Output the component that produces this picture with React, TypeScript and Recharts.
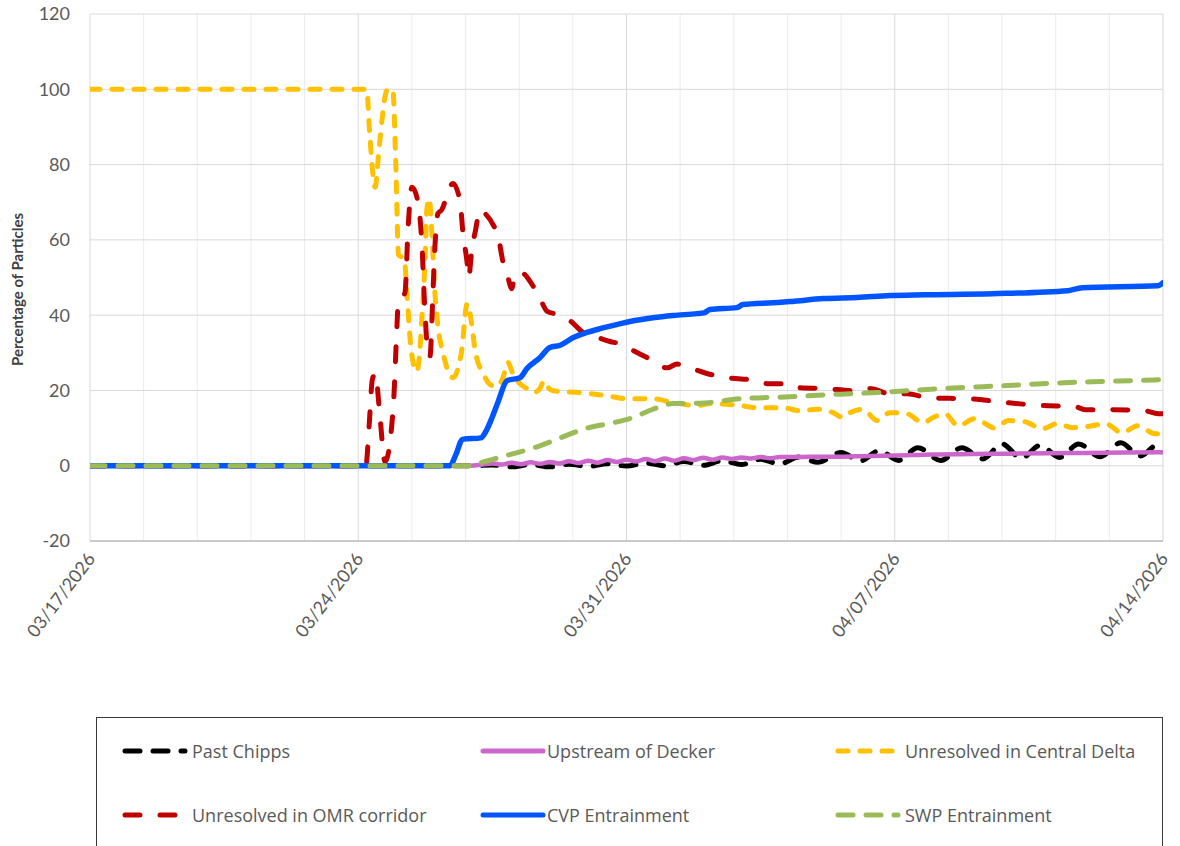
import React from 'react';
import { LineChart, Line, XAxis, YAxis, CartesianGrid, Label } from 'recharts';

// ---- axis values / labels ----
const xTickValues = [0, 7, 14, 21, 28];
const xTickLabels = ['03/17/2026', '03/24/2026', '03/31/2026', '04/07/2026', '04/14/2026'];
const yTickValues = [-20, 0, 20, 40, 60, 80, 100, 120];
const minorGridDays = [1.4, 2.8, 4.2, 5.6, 8.4, 9.8, 11.2, 12.6, 15.4, 16.8, 18.2, 19.6, 22.4, 23.8, 25.2, 26.6];
const yAxisTitle = 'Percentage of Particles';

// ---- series: [day since 03/17/2026, percent] ----
const pastChipps: [number, number][] = [
  [0, 0], [10.0, 0], [10.5, 0.2], [11, -0.3], [11.5, 0.3], [12, -0.3], [12.5, 0.4], [13, -0.2], [13.5, 0.5],
  [14, -0.1], [14.5, 0.7], [15, 0], [15.5, 1.1], [16, 0.1], [16.5, 1.3], [17, 0.3], [17.5, 1.7], [18, 0.5],
  [18.5, 2.3], [19, 0.9], [19.6, 3.5], [20.1, 1.3], [20.6, 4.0], [21.1, 1.4], [21.6, 4.8], [22.2, 1.4],
  [22.75, 4.8], [23.3, 1.8], [23.8, 5.8], [24.3, 2.0], [24.8, 5.4], [25.3, 2.2], [25.8, 5.8], [26.35, 2.4],
  [26.9, 6.1], [27.4, 2.6], [27.9, 5.8], [28, 5.4],
];

const upstreamDecker: [number, number][] = [
  [0, 0], [9.9, 0], [10.25, 0.3], [10.5, 0.6], [10.75, 0.3], [11, 0.8], [11.25, 0.4], [11.5, 0.9], [11.75, 0.5],
  [12, 1.0], [12.25, 0.6], [12.5, 1.2], [12.75, 0.7], [13, 1.3], [13.25, 0.8], [13.5, 1.5], [13.75, 1.0],
  [14, 1.6], [14.25, 1.1], [14.5, 1.8], [14.75, 1.2], [15, 1.9], [15.25, 1.3], [15.5, 2.0], [15.75, 1.5],
  [16, 2.1], [16.25, 1.6], [16.5, 2.2], [16.75, 1.8], [17, 2.2], [17.25, 1.9], [17.5, 2.3], [17.75, 2.0],
  [18, 2.3], [18.5, 2.3], [19, 2.4], [19.5, 2.4], [20, 2.5], [21, 2.7], [22, 3.0], [23, 3.1], [24, 3.2],
  [25, 3.3], [26, 3.4], [27, 3.5], [28, 3.6],
];

const centralDelta: [number, number][] = [
  [0, 100], [7.22, 100], [7.3, 88], [7.44, 74], [7.55, 85], [7.72, 99], [7.78, 100], [7.9, 100], [7.98, 80],
  [8.05, 56], [8.2, 55], [8.27, 46], [8.35, 34], [8.42, 28], [8.53, 25], [8.61, 31], [8.66, 39], [8.74, 54],
  [8.79, 68], [8.85, 71], [8.92, 62], [9.0, 46], [9.08, 37], [9.21, 30], [9.47, 23.4], [9.7, 30.6], [9.84, 43],
  [9.97, 37], [10.05, 30.6], [10.26, 24.5], [10.45, 21.5], [10.62, 21], [10.78, 23.5], [10.9, 27.5], [11.05, 24],
  [11.22, 21.8], [11.4, 20.5], [11.56, 19.4], [11.74, 20.5], [11.85, 22.6], [11.98, 20.5], [12.08, 19.9],
  [12.79, 19.4], [13.49, 18.6], [14.01, 17.8], [14.69, 17.8], [15.21, 16.8], [15.84, 16], [16.18, 16.5],
  [16.96, 16], [17.41, 15.4], [18.08, 15.4], [18.53, 14.6], [18.97, 15], [19.39, 14.1], [19.65, 12.8],
  [19.83, 14.1], [20.17, 15], [20.54, 12], [20.88, 14.1], [21.32, 13.8], [21.74, 11.4], [22.0, 12.8],
  [22.31, 13.8], [22.65, 10.6], [23.09, 12.5], [23.62, 10], [23.96, 12], [24.4, 11.7], [24.84, 9.8],
  [25.26, 11.2], [25.63, 10.1], [26.15, 10.6], [26.49, 11.2], [26.93, 8.8], [27.35, 10.6], [27.79, 8.5], [28, 8.5],
];

const omrCorridor: [number, number][] = [
  [0, 0], [7.2, 0], [7.28, 10], [7.37, 23], [7.45, 24.5], [7.55, 15], [7.7, 1], [7.91, 15], [8.01, 37],
  [8.04, 43], [8.22, 46], [8.3, 63], [8.4, 74], [8.56, 70], [8.66, 59], [8.74, 41], [8.82, 30], [8.87, 29],
  [8.95, 46], [9.0, 58], [9.08, 67], [9.18, 68], [9.39, 74], [9.47, 75], [9.66, 70], [9.73, 62], [9.84, 54],
  [9.88, 50], [9.97, 58], [10.05, 62], [10.18, 68], [10.31, 67], [10.52, 64], [10.65, 61], [10.78, 54],
  [10.88, 51], [11.01, 47], [11.09, 51], [11.3, 51], [11.48, 49], [11.74, 44.5], [11.93, 41], [12.27, 40],
  [12.53, 38.5], [12.87, 35.4], [13.13, 34.5], [13.57, 33], [13.83, 32.4], [14.17, 30.6], [14.54, 28.7],
  [15.06, 26], [15.32, 27], [15.66, 26], [16.1, 24.5], [16.62, 23.4], [17.41, 22.6], [17.67, 21.8],
  [18.27, 21.8], [18.53, 20.7], [19.13, 20.5], [20.02, 19.9], [20.35, 20.5], [20.88, 19.1], [21.32, 19.1],
  [21.92, 18], [22.91, 17.8], [23.88, 16.8], [24.84, 16], [25.7, 15.7], [25.97, 14.9], [26.67, 14.9],
  [27.53, 14.6], [27.87, 13.8], [28, 13.8],
];

const cvpEntrainment: [number, number][] = [
  [0, 0], [9.39, 0], [9.55, 3], [9.72, 7], [10.2, 7.4], [10.35, 9.5], [10.5, 13], [10.65, 17], [10.88, 22.6],
  [11.22, 23.4], [11.4, 25.8], [11.74, 28.7], [12.0, 31.4], [12.27, 32], [12.6, 34], [12.97, 35.4],
  [13.31, 36.4], [13.83, 37.7], [14.09, 38.3], [14.69, 39.3], [15.21, 39.9], [15.84, 40.4], [16.02, 40.6],
  [16.18, 41.5], [16.88, 42], [17.04, 42.8], [17.82, 43.3], [18.27, 43.6], [19.13, 44.4], [20.02, 44.7],
  [20.88, 45.2], [21.79, 45.4], [23.54, 45.7], [25.52, 46.5], [25.89, 47.3], [27.87, 47.8], [28, 48.6],
];

const swpEntrainment: [number, number][] = [
  [0, 0], [9.9, 0], [10.2, 0.8], [10.9, 2.8], [11.5, 4.5], [11.74, 5.3], [12.27, 7.4], [12.97, 10],
  [13.65, 11.4], [14.17, 12.8], [14.69, 15], [15.21, 16.5], [15.92, 16.6], [16.96, 17.8], [18.27, 18.3],
  [19.13, 18.8], [20.02, 19.2], [21.32, 19.9], [21.74, 20.2], [22.65, 20.7], [23.96, 21.3], [24.84, 21.8],
  [26.15, 22.3], [27.79, 22.8], [28, 22.9],
];

const seriesNames = [
  'Past Chipps',
  'Upstream of Decker',
  'Unresolved in Central Delta',
  'Unresolved in OMR corridor',
  'CVP Entrainment',
  'SWP Entrainment',
];
const seriesData = [pastChipps, upstreamDecker, centralDelta, omrCorridor, cvpEntrainment, swpEntrainment];

// styles (not data)
const seriesStyles = [
  { color: '#000000', width: 5, dash: '15 13' },
  { color: '#CC66CC', width: 4.5, dash: undefined },
  { color: '#FFC000', width: 5, dash: '10 12' },
  { color: '#C00000', width: 5, dash: '15 20' },
  { color: '#0055FF', width: 5.5, dash: undefined },
  { color: '#9BBB59', width: 5, dash: '15 13' },
];

const FONT = 'Lato, "Open Sans", sans-serif';
const LEGEND_FONT = '"Open Sans", Lato, sans-serif';

const toRows = (pairs: [number, number][]) => pairs.map(([d, v]) => ({ d, v }));

const XTick = (props: any) => {
  const { x, y, payload } = props;
  const idx = xTickValues.indexOf(payload.value);
  const label = idx >= 0 ? xTickLabels[idx] : '';
  const ax = x + 6;
  const ay = y + 18;
  return (
    <text
      x={ax}
      y={ay}
      textAnchor="end"
      transform={`rotate(-53 ${ax} ${ay})`}
      fontSize={18}
      fill="#595959"
      fontFamily={FONT}
    >
      {label}
    </text>
  );
};

const YTitle = (props: any) => {
  const vb = props.viewBox || { x: 0, y: 14, width: 90, height: 527 };
  const cx = 19;
  const cy = vb.y + vb.height / 2 + 12;
  return (
    <text
      x={cx}
      y={cy}
      textAnchor="middle"
      dominantBaseline="middle"
      transform={`rotate(-90 ${cx} ${cy})`}
      fontSize={15}
      fontWeight="bold"
      fill="#404040"
      fontFamily={FONT}
    >
      {yAxisTitle}
    </text>
  );
};

const LegendBox = () => {
  const iconStarts = [124.5, 482.5, 837.5];
  const textCols = [192, 547, 905];
  const rows = [751, 815];
  const boxLeft = 96;
  const boxTop = 717;
  return (
    <div
      style={{
        position: 'absolute',
        left: boxLeft,
        top: boxTop,
        width: 1067,
        height: 140,
        border: '1px solid #3a3a3a',
        boxSizing: 'border-box',
        background: '#fff',
      }}
    >
      {seriesNames.map((name, i) => {
        const r = Math.floor(i / 3);
        const c = i % 3;
        const st = seriesStyles[i];
        return (
          <React.Fragment key={name}>
            <svg
              width={70}
              height={12}
              style={{ position: 'absolute', left: iconStarts[c] - 5 - boxLeft - 1, top: rows[r] - boxTop - 1 - 6 }}
            >
              <line
                x1={5}
                y1={6}
                x2={65}
                y2={6}
                stroke={st.color}
                strokeWidth={5}
                strokeDasharray={st.dash}
                strokeLinecap="round"
              />
            </svg>
            <div
              style={{
                position: 'absolute',
                left: textCols[c] - boxLeft - 1,
                top: rows[r] - boxTop - 1 - 13,
                height: 26,
                lineHeight: '26px',
                fontSize: 18,
                color: '#595959',
                fontFamily: LEGEND_FONT,
                whiteSpace: 'nowrap',
              }}
            >
              {name}
            </div>
          </React.Fragment>
        );
      })}
    </div>
  );
};

export default function App() {
  return (
    <div
      style={{
        position: 'absolute',
        left: 0,
        top: 0,
        width: 1180,
        height: 846,
        overflow: 'hidden',
        background: '#ffffff',
      }}
    >
      <LineChart width={1180} height={846} margin={{ top: 14, right: 17, bottom: 0, left: 0 }}>
        <CartesianGrid
          horizontal={false}
          vertical={true}
          stroke="#ececec"
          strokeWidth={1}
          verticalCoordinatesGenerator={(args: any) => {
            const { xAxis, offset } = args;
            return minorGridDays.map((d) =>
              xAxis && typeof xAxis.scale === 'function'
                ? xAxis.scale(d)
                : offset.left + (d / 28) * offset.width
            );
          }}
        />
        <CartesianGrid stroke="#d9d9d9" strokeWidth={1} />
        <XAxis
          dataKey="d"
          type="number"
          domain={[0, 28]}
          ticks={xTickValues}
          interval={0}
          height={305}
          tickLine={false}
          tickSize={0}
          tickMargin={0}
          axisLine={{ stroke: '#bfbfbf', strokeWidth: 1.5 }}
          tick={<XTick />}
          allowDataOverflow
        />
        <YAxis
          type="number"
          domain={[-20, 120]}
          ticks={yTickValues}
          interval={0}
          width={90}
          axisLine={false}
          tickLine={false}
          tickSize={0}
          tickMargin={20}
          tick={{ fontSize: 18, fill: '#595959', fontFamily: FONT }}
          label={<Label content={<YTitle />} />}
        />
        {seriesData.map((pairs, i) => (
          <Line
            key={seriesNames[i]}
            name={seriesNames[i]}
            data={toRows(pairs)}
            dataKey="v"
            type="monotone"
            stroke={seriesStyles[i].color}
            strokeWidth={seriesStyles[i].width}
            strokeDasharray={seriesStyles[i].dash}
            strokeLinecap="round"
            strokeLinejoin="round"
            dot={false}
            activeDot={false}
            isAnimationActive={false}
          />
        ))}
      </LineChart>
      <LegendBox />
    </div>
  );
}
